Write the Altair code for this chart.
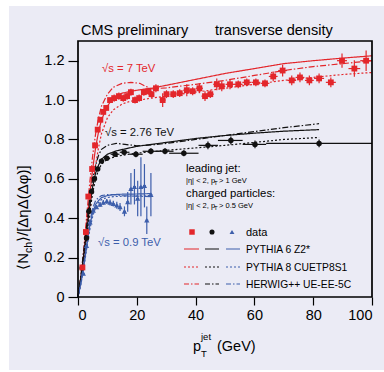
import altair as alt
import pandas as pd

RED = "#e3262b"
BLACK = "#111111"
BLUE = "#3d5eab"
BG = "#ebebf5"
FONT = "Liberation Sans"

# ---------------- data: sqrt(s) = 7 TeV (red squares) ----------------
r_pt = [1.5, 2.7, 3.5, 4.8, 5.8, 6.7, 7.6, 8.6, 9.6, 10.9, 12.3, 13.9, 15.4, 16.7, 18.0, 19.4,
        20.8, 22.4, 23.9, 25.0, 26.5, 28.8, 30.1, 32.4, 34.6, 37.0, 39.0, 41.3, 43.2, 45.0, 47.2,
        48.9, 51.7, 54.5, 57.4, 60.5, 63.6, 66.4, 69.6, 72.7, 75.5, 78.7, 82.0, 86.0, 89.8, 94.0, 98.0]
r_v = [0.15, 0.33, 0.51, 0.65, 0.77, 0.85, 0.90, 0.94, 0.96, 1.00, 1.01, 1.02, 1.01, 1.02, 1.04, 1.00,
       1.01, 1.04, 1.045, 1.03, 1.06, 1.00, 1.03, 1.03, 1.035, 1.05, 1.045, 1.06, 1.02, 1.03, 1.08,
       1.07, 1.08, 1.08, 1.09, 1.09, 1.085, 1.12, 1.15, 1.10, 1.115, 1.10, 1.11, 1.09, 1.20, 1.16, 1.20]
r_ex = [0.5] * 9 + [0.7] * 11 + [1.0] * 4 + [1.2] * 8 + [1.5] * 10 + [1.7] * 3 + [2.0] * 2
r_ey = [0.012] * 10 + [0.018] * 10 + [0.02, 0.035, 0.02, 0.02, 0.02, 0.03, 0.02, 0.025, 0.025, 0.02,
       0.03, 0.025, 0.025, 0.02, 0.02, 0.02, 0.02, 0.025, 0.03, 0.025, 0.025, 0.025, 0.025, 0.025,
       0.036, 0.042, 0.052]

# ---------------- data: sqrt(s) = 2.76 TeV (black dots) ----------------
k_pt = [1.4, 2.9, 3.7, 4.6, 5.6, 6.7, 8.0, 9.8, 12.6, 15.7, 19.7, 24.8, 29.6, 36.0, 44.2, 52.0, 60.2, 82.0]
k_v = [0.147, 0.30, 0.435, 0.535, 0.60, 0.65, 0.69, 0.705, 0.725, 0.735, 0.725, 0.74, 0.74, 0.73,
       0.77, 0.795, 0.775, 0.78]
k_exlo = [0.4, 0.4, 0.4, 0.4, 0.5, 0.5, 0.8, 1.0, 1.5, 1.5, 2.2, 2.8, 2.6, 5.0, 3.2, 4.4, 4.2, 18.0]
k_exhi = [0.4, 0.4, 0.4, 0.4, 0.5, 0.5, 0.8, 1.0, 1.5, 1.8, 2.3, 2.7, 2.9, 5.0, 3.4, 4.0, 3.8, 18.0]
k_ey = [0.01, 0.01, 0.01, 0.01, 0.01, 0.01, 0.012, 0.012, 0.012, 0.012, 0.015, 0.015, 0.015,
        0.015, 0.02, 0.02, 0.02, 0.02]

# ---------------- data: sqrt(s) = 0.9 TeV (blue triangles) ----------------
b_pt = [1.8, 2.9, 4.1, 5.2, 6.3, 7.5, 8.6, 9.8, 10.9, 12.0, 13.2, 14.3, 15.8, 16.9, 18.0, 19.2,
        20.3, 21.4, 22.6, 23.4, 24.8]
b_v = [0.12, 0.26, 0.38, 0.44, 0.457, 0.47, 0.48, 0.486, 0.48, 0.474, 0.466, 0.457, 0.435, 0.483,
       0.55, 0.56, 0.50, 0.56, 0.565, 0.39, 0.52]
b_ex = [0.5] * 21
b_ey = [0.01, 0.01, 0.01, 0.01, 0.01, 0.012, 0.012, 0.012, 0.015, 0.015, 0.018, 0.02, 0.025,
        0.05, 0.08, 0.09, 0.09, 0.15, 0.11, 0.07, 0.11]

# ---------------- models ----------------
m_pt_lo = [0, 1, 2, 3, 4, 5, 6, 7, 8, 10, 12, 15, 18, 21, 23, 25]
m_pt_hi = [30, 40, 50, 60, 70, 80, 90, 100]
red_p6 = [0, 0.10, 0.22, 0.38, 0.52, 0.65, 0.76, 0.84, 0.90, 0.97, 1.01, 1.035, 1.045, 1.052, 1.056,
          1.06, 1.075, 1.105, 1.135, 1.16, 1.185, 1.20, 1.213, 1.225]
red_p8 = [0, 0.08, 0.18, 0.30, 0.43, 0.56, 0.67, 0.76, 0.83, 0.91, 0.95, 0.98, 0.995, 1.0, 1.005,
          1.01, 1.02, 1.04, 1.06, 1.08, 1.10, 1.115, 1.13, 1.14]
red_hw = [0, 0.10, 0.25, 0.42, 0.58, 0.72, 0.83, 0.91, 0.97, 1.03, 1.065, 1.085, 1.09, 1.085, 1.07,
          1.057, 1.062, 1.08, 1.10, 1.125, 1.15, 1.17, 1.185, 1.20]

k_m_pt = [0, 1, 2, 3, 4, 5, 6, 7, 8, 10, 13, 16, 20, 25, 30, 40, 50, 60, 70, 82]
blk_p6 = [0, 0.10, 0.22, 0.34, 0.46, 0.56, 0.63, 0.67, 0.70, 0.725, 0.742, 0.752, 0.765, 0.775,
          0.785, 0.805, 0.82, 0.832, 0.842, 0.85]
blk_p8 = [0, 0.09, 0.20, 0.31, 0.43, 0.53, 0.60, 0.645, 0.675, 0.70, 0.714, 0.722, 0.73, 0.738,
          0.745, 0.757, 0.77, 0.785, 0.80, 0.81]
blk_hw = [0, 0.11, 0.24, 0.37, 0.50, 0.60, 0.67, 0.72, 0.75, 0.77, 0.78, 0.775, 0.768, 0.772,
          0.78, 0.80, 0.82, 0.84, 0.86, 0.88]

b_m_pt = [0, 1, 2, 3, 4, 5, 6, 7, 8, 10, 12, 15, 20, 25]
blu_p6 = [0, 0.07, 0.16, 0.26, 0.36, 0.43, 0.47, 0.49, 0.505, 0.515, 0.52, 0.522, 0.523, 0.525]
blu_p8 = [0, 0.065, 0.15, 0.25, 0.34, 0.41, 0.455, 0.48, 0.495, 0.505, 0.51, 0.512, 0.513, 0.515]
blu_hw = [0, 0.075, 0.17, 0.28, 0.38, 0.45, 0.49, 0.505, 0.515, 0.52, 0.52, 0.515, 0.512, 0.51]

x_ticks = [0, 20, 40, 60, 80, 100]
y_ticks = [0, 0.2, 0.4, 0.6, 0.8, 1.0, 1.2]

# ---------------- tables ----------------
def data_table(pt, v, exlo, exhi, ey):
    return pd.DataFrame({"pt": pt, "v": v,
                         "xlo": [p - a for p, a in zip(pt, exlo)],
                         "xhi": [p + a for p, a in zip(pt, exhi)],
                         "ylo": [y - e for y, e in zip(v, ey)],
                         "yhi": [y + e for y, e in zip(v, ey)]})

red_df = data_table(r_pt, r_v, r_ex, r_ex, r_ey)
blk_df = data_table(k_pt, k_v, k_exlo, k_exhi, k_ey)
blu_df = data_table(b_pt, b_v, b_ex, b_ex, b_ey)

rows = []
for e, pts, series in [("7", m_pt_lo + m_pt_hi, [("P6", red_p6), ("P8", red_p8), ("HW", red_hw)]),
                       ("2.76", k_m_pt, [("P6", blk_p6), ("P8", blk_p8), ("HW", blk_hw)]),
                       ("0.9", b_m_pt, [("P6", blu_p6), ("P8", blu_p8), ("HW", blu_hw)])]:
    for m, vals in series:
        for p, y in zip(pts, vals):
            rows.append({"pt": p, "v": y, "energy": e, "model": m, "key": e + m})
mod_df = pd.DataFrame(rows)

xs = alt.Scale(domain=[0, 100], nice=False, zero=False)
ys = alt.Scale(domain=[0, 1.3], nice=False, zero=False)
X = alt.X("pt:Q", scale=xs,
          axis=alt.Axis(values=x_ticks, title=None, grid=False, domain=False, tickSize=8,
                        tickColor="black", tickWidth=1.2, labelFontSize=14.5, labelFont=FONT,
                        labelColor="black", labelPadding=3, zindex=2))
Y = alt.Y("v:Q", scale=ys,
          axis=alt.Axis(values=y_ticks, title=None, grid=False, domain=False, tickSize=10,
                        tickColor="black", tickWidth=1.2, labelFontSize=14.5, labelFont=FONT,
                        labelColor="black", labelPadding=4, zindex=2,
                        labelExpr="datum.value == 0 ? '0' : format(datum.value, '.1f')"))

ecol = alt.Color("energy:N", scale=alt.Scale(domain=["7", "2.76", "0.9"], range=[RED, BLACK, BLUE]),
                 legend=None)
edash = alt.StrokeDash("model:N", scale=alt.Scale(domain=["P6", "P8", "HW"],
                                                  range=[[1, 0], [2, 2], [6, 2, 1.5, 2]]), legend=None)

one = pd.DataFrame({"a": [0]})
bgd = alt.Chart(one).mark_rect(color=BG).encode(
    x=alt.value(-69), x2=alt.value(306), y=alt.value(-35), y2=alt.value(329))
frame = alt.Chart(one).mark_rect(fill=None, filled=False, stroke="black", strokeWidth=1.7).encode(
    x=alt.value(0), x2=alt.value(294), y=alt.value(0), y2=alt.value(256))

lines = alt.Chart(mod_df).mark_line(strokeWidth=1.2).encode(
    x=X, y=Y, color=ecol, strokeDash=edash, detail="key:N")

def err_layers(df, color, shape, size):
    base = alt.Chart(df)
    h = base.mark_rule(color=color, strokeWidth=1.2).encode(
        x=alt.X("xlo:Q", scale=xs), x2="xhi:Q", y=alt.Y("v:Q", scale=ys))
    vv = base.mark_rule(color=color, strokeWidth=1.2).encode(
        x=alt.X("pt:Q", scale=xs), y=alt.Y("ylo:Q", scale=ys), y2="yhi:Q")
    pts = base.mark_point(shape=shape, filled=True, opacity=1, color=color, size=size).encode(
        x=alt.X("pt:Q", scale=xs), y=alt.Y("v:Q", scale=ys))
    return [h, vv, pts]

def txt(s, x, y, size=11.3, color="black", align="left", angle=0, baseline="alphabetic"):
    return alt.Chart(one).mark_text(
        text=s, fontSize=size, font=FONT, color=color, align=align, baseline=baseline, angle=angle
    ).encode(x=alt.value(x), y=alt.value(y))

def seg(x1, x2, y, color, dash):
    return alt.Chart(one).mark_rule(color=color, strokeWidth=1.2, strokeDash=dash).encode(
        x=alt.value(x1), x2=alt.value(x2), y=alt.value(y))

def marker(x, y, shape, color, size):
    return alt.Chart(one).mark_point(shape=shape, filled=True, opacity=1, color=color, size=size).encode(
        x=alt.value(x), y=alt.value(y))

layers = [bgd, lines]
layers += err_layers(blu_df, BLUE, "triangle-up", 28)
layers += err_layers(blk_df, BLACK, "circle", 30)
layers += err_layers(red_df, RED, "square", 34)
layers += [frame]

annot = [
    txt("CMS preliminary", 3, -6, 14.5),
    txt("transverse density", 137, -6, 14.5),
    txt("√s = 7 TeV", 24, 31, 11.3, RED),
    txt("√s = 2.76 TeV", 27, 95, 11.3, BLACK),
    txt("√s = 0.9 TeV", 20, 205, 11.3, BLUE),
    txt("leading jet:", 108, 131, 11.3),
    txt("|η| < 2, p", 108, 142, 7.5),
    txt("T", 136, 144, 6),
    txt("> 1 GeV", 141, 142, 7.5),
    txt("charged particles:", 108, 156, 11.3),
    txt("|η| < 2, p", 108, 167, 7.5),
    txt("T", 136, 169, 6),
    txt("> 0.5 GeV", 141, 167, 7.5),
    marker(114, 191, "square", RED, 30),
    marker(134, 191, "circle", BLACK, 26),
    marker(154, 191, "triangle-up", BLUE, 24),
    txt("data", 168, 195, 11),
    seg(106, 121, 208, RED, [1, 0]), seg(127, 141, 208, BLACK, [1, 0]), seg(148, 162, 208, BLUE, [1, 0]),
    txt("PYTHIA 6 Z2*", 168, 212, 10.3),
    seg(106, 121, 226, RED, [2, 2]), seg(127, 141, 226, BLACK, [2, 2]), seg(148, 162, 226, BLUE, [2, 2]),
    txt("PYTHIA 8 CUETP8S1", 168, 230, 10.3),
    seg(106, 121, 243, RED, [5, 2, 1.5, 2]), seg(127, 141, 243, BLACK, [5, 2, 1.5, 2]),
    seg(148, 162, 243, BLUE, [5, 2, 1.5, 2]),
    txt("HERWIG++ UE-EE-5C", 168, 247, 10.3),
    # x-axis title  p_T^jet (GeV)
    txt("p", 115, 310, 14.5),
    txt("jet", 123, 299, 9.5),
    txt("T", 123, 316, 9.5),
    txt("(GeV)", 139, 310, 14.5),
    # y-axis title  <N_ch>/[ΔηΔ(Δφ)] (rotated)
    txt("⟨N", -50, 212, 15, angle=270, align="right"),
    txt("ch", -46, 212, 10.5, angle=270, align="left"),
    txt("⟩/[ΔηΔ(Δφ)]", -50, 201, 15, angle=270, align="left"),
]

chart = alt.layer(*layers, *annot).properties(
    width=294, height=256,
    autosize=alt.AutoSizeParams(type="none"),
    padding={"left": 78, "top": 41, "right": 12, "bottom": 75},
    background="white",
).configure_view(stroke=None, fill=BG)

chart.save("out.html", embed_options={"renderer": "svg", "actions": False})
